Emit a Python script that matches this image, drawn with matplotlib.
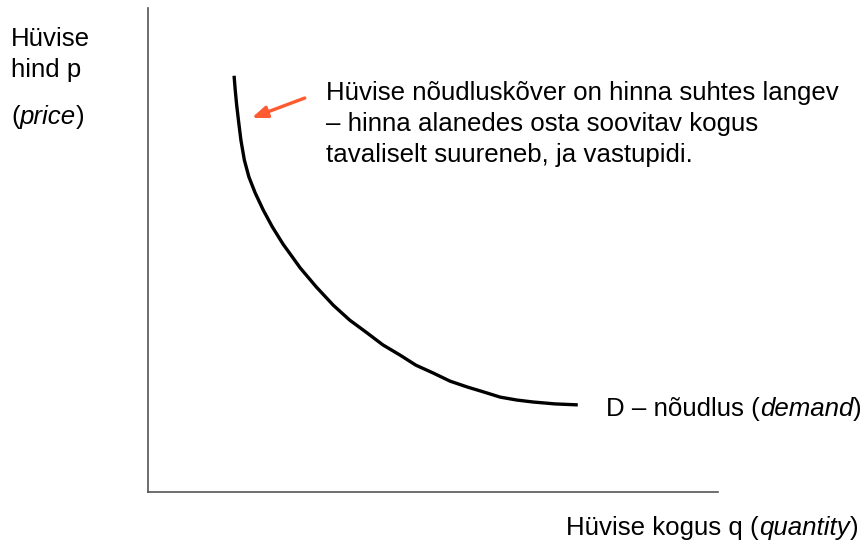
import matplotlib
matplotlib.use("Agg")
import matplotlib.pyplot as plt

plt.rcParams["font.family"] = ["Liberation Sans", "DejaVu Sans"]

# demand curve, quantity q vs price p (axis units 0..100)
quantity = [15.1, 15.3, 15.55, 15.9, 16.3, 16.9, 17.7, 18.8, 20.2, 21.8,
            23.7, 25.3, 26.7, 29.5, 32.5, 35.4, 38.4, 41.2, 44.2, 47.0,
            50.0, 53.0, 56.0, 58.8, 61.8, 64.7, 67.5, 71.4, 75.4]
price = [86.0, 83.1, 80.0, 76.5, 72.7, 68.6, 65.1, 61.8, 58.3, 54.8,
         51.2, 48.6, 46.3, 42.4, 38.6, 35.5, 32.9, 30.4, 28.3, 26.2,
         24.6, 22.9, 21.7, 20.7, 19.6, 19.0, 18.6, 18.2, 18.0]

note_lines = [
    "Hüvise nõudluskõver on hinna suhtes langev",
    "– hinna alanedes osta soovitav kogus",
    "tavaliselt suureneb, ja vastupidi.",
]

W, H = 868, 547
FS = 18.6
fig = plt.figure(figsize=(W / 100, H / 100), dpi=100)
# axes box: left 148px, right 718px, top 8px, bottom 492px
ax = fig.add_axes([148 / W, 1 - 492 / H, 570 / W, 484 / H])
ax.set_xlim(0, 100)
ax.set_ylim(0, 100)
for side in ("top", "right"):
    ax.spines[side].set_visible(False)
for side in ("left", "bottom"):
    ax.spines[side].set_color("#555555")
    ax.spines[side].set_linewidth(1.2)
ax.set_xticks([])
ax.set_yticks([])

ax.plot(quantity, price, color="black", lw=2.4, solid_capstyle="butt",
        solid_joinstyle="round")

# arrow pointing at the curve
ax.annotate("", xy=(18.2, 77.3), xytext=(27.5, 81.4),
            arrowprops=dict(arrowstyle="-|>,head_length=0.9,head_width=0.35",
                            color="#FF5A30", lw=2.4, shrinkA=0, shrinkB=0))


def put(x, base, s, style="normal", ha="left"):
    return fig.text(x / W, 1 - base / H, s, fontsize=FS, style=style,
                    ha=ha, va="baseline", color="black")


def mixed(x, base, parts, ha="left"):
    # string pieces in alternating upright / italic style on one baseline
    renderer = fig.canvas.get_renderer()
    objs = [put(0, base, s, style) for s, style in parts]
    widths = [o.get_window_extent(renderer).width for o in objs]
    px = x if ha == "left" else x - sum(widths)
    for o, w in zip(objs, widths):
        o.set_x(px / W)
        px += w


for i, line in enumerate(note_lines):
    put(326, 100 + i * 31, line)

put(11, 46, "Hüvise")
put(11, 77, "hind p")
mixed(11, 124, [("(", "normal"), ("price", "italic"), (")", "normal")])
mixed(606, 416, [("D – nõudlus (", "normal"), ("demand", "italic"), (")", "normal")])
mixed(858, 535, [("Hüvise kogus q (", "normal"), ("quantity", "italic"), (")", "normal")],
      ha="right")

fig.savefig("out.png", dpi=100)
